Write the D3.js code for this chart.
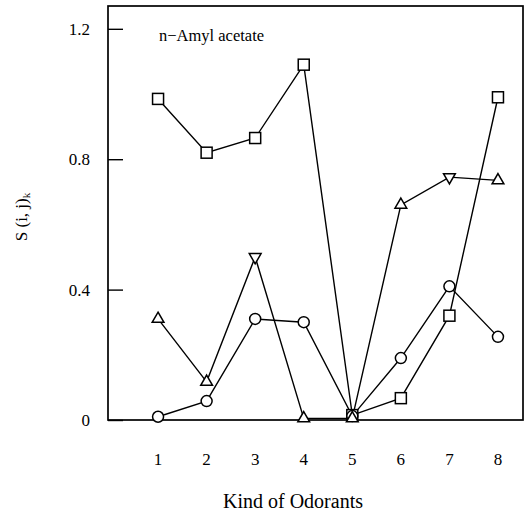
<!DOCTYPE html>
<html>
<head>
<meta charset="utf-8">
<script src="https://cdn.jsdelivr.net/npm/d3@7"></script>
<style>
  body { margin: 0; background: #fff; }
  svg { font-family: "Liberation Serif", "DejaVu Serif", serif; }
</style>
</head>
<body>
<svg id="chart" width="530" height="515"></svg>
<script>
var odorants = [1, 2, 3, 4, 5, 6, 7, 8];
var yTicks = [0, 0.4, 0.8, 1.2];
var squareVals = [0.985, 0.82, 0.865, 1.09, 0.015, 0.067, 0.32, 0.99];
var circleVals = [0.01, 0.058, 0.31, 0.30, 0.012, 0.19, 0.41, 0.255];
var triangleVals = [0.31, 0.117, 0.50, 0.005, 0.005, 0.66, 0.745, 0.735];
var triangleDown = [false, false, true, false, false, false, true, false];

var svg = d3.select("#chart");
var margin = { top: 6, right: 7, bottom: 95, left: 108 },
    width = 530 - margin.left - margin.right,
    height = 515 - margin.top - margin.bottom;

// first category sits ~50px in from the frame
var x = d3.scaleLinear().domain([1 - 50 / 48.5, 8 + 25 / 48.5]).range([0, width]);
var y = d3.scaleLinear().domain([0, 1.27]).range([height, 0]);

var g = svg.append("g")
    .attr("transform", "translate(" + margin.left + "," + margin.top + ")");

g.append("rect")
    .attr("width", width)
    .attr("height", height)
    .attr("fill", "none")
    .attr("stroke", "#000")
    .attr("stroke-width", 1.7);

var yAxis = g.append("g")
    .call(d3.axisRight(y).tickValues(yTicks).tickSize(15).tickFormat(""));
yAxis.select(".domain").remove();
yAxis.selectAll("line").attr("stroke-width", 1.4);

g.selectAll(".ylab")
  .data(yTicks)
  .enter().append("text")
    .attr("x", -18)
    .attr("y", function(d) { return y(d); })
    .attr("dy", "0.35em")
    .attr("text-anchor", "end")
    .attr("font-size", 17)
    .text(function(d) { return d === 0 ? "0" : d3.format(".1f")(d); });

g.selectAll(".xlab")
  .data(odorants)
  .enter().append("text")
    .attr("x", function(d) { return x(d); })
    .attr("y", height + 45)
    .attr("text-anchor", "middle")
    .attr("font-size", 17)
    .text(function(d) { return d; });

g.append("text")
    .attr("x", 51)
    .attr("y", 29)
    .attr("dy", "0.35em")
    .attr("font-size", 16.5)
    .text("n\u2212Amyl acetate");

svg.append("text")
    .attr("transform", "translate(27,217) rotate(-90)")
    .attr("text-anchor", "middle")
    .attr("font-size", 17)
    .html('S (i, j)<tspan font-size="11" dy="3">k</tspan>');

svg.append("text")
    .attr("x", 293)
    .attr("y", 508)
    .attr("text-anchor", "middle")
    .attr("font-size", 20)
    .text("Kind of Odorants");

var line = d3.line()
    .x(function(d, i) { return x(odorants[i]); })
    .y(function(d) { return y(d); });

[squareVals, circleVals, triangleVals].forEach(function(vals) {
  g.append("path")
      .datum(vals)
      .attr("fill", "none")
      .attr("stroke", "#000")
      .attr("stroke-width", 1.4)
      .attr("d", line);
});

// markers: white fill so lines stop at the edge
g.selectAll(".sq")
  .data(squareVals)
  .enter().append("rect")
    .attr("x", function(d, i) { return x(odorants[i]) - 5.5; })
    .attr("y", function(d) { return y(d) - 5.5; })
    .attr("width", 11)
    .attr("height", 11)
    .attr("fill", "#fff")
    .attr("stroke", "#000")
    .attr("stroke-width", 1.5);

g.selectAll(".ci")
  .data(circleVals)
  .enter().append("circle")
    .attr("cx", function(d, i) { return x(odorants[i]); })
    .attr("cy", function(d) { return y(d); })
    .attr("r", 5.5)
    .attr("fill", "#fff")
    .attr("stroke", "#000")
    .attr("stroke-width", 1.5);

var tri = d3.symbol().type(d3.symbolTriangle).size(60);
g.selectAll(".tr")
  .data(triangleVals)
  .enter().append("path")
    .attr("transform", function(d, i) {
      return "translate(" + x(odorants[i]) + "," + y(d) + ")" + (triangleDown[i] ? " rotate(180)" : "");
    })
    .attr("d", tri)
    .attr("fill", "#fff")
    .attr("stroke", "#000")
    .attr("stroke-width", 1.5);
</script>
</body>
</html>
